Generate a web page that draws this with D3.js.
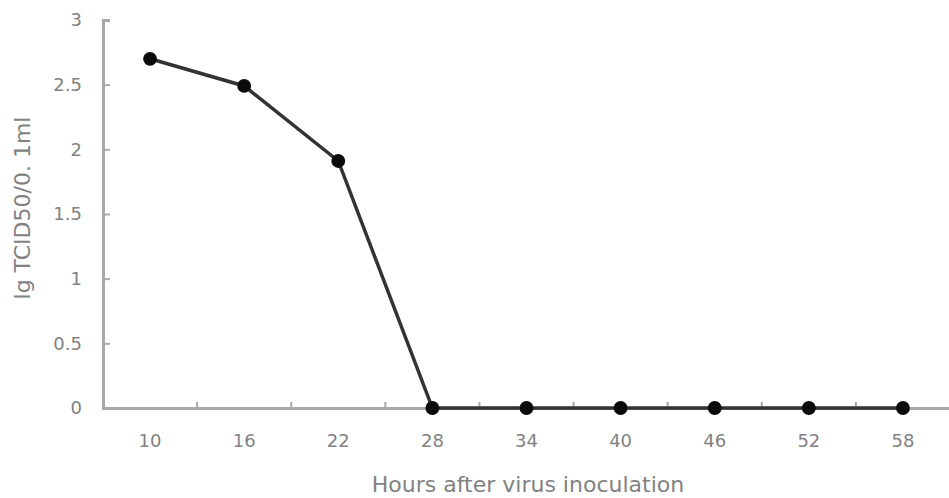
<!DOCTYPE html>
<html>
<head>
<meta charset="utf-8">
<script src="https://cdn.jsdelivr.net/npm/d3@7"></script>
<style>
  html, body { margin: 0; padding: 0; background: #fff; }
  svg { display: block; }
  text { font-family: "DejaVu Sans", Verdana, sans-serif; fill: #828282; }
</style>
</head>
<body>
<svg id="chart" width="949" height="498"></svg>
<script>
// Virus titre over time after inoculation
const hours = ["10", "16", "22", "28", "34", "40", "46", "52", "58"];
const titre = [2.7, 2.49, 1.91, 0, 0, 0, 0, 0, 0];
const yTicks = [0, 0.5, 1, 1.5, 2, 2.5, 3];
const yTickLabels = ["0", "0.5", "1", "1.5", "2", "2.5", "3"];
const xTitle = "Hours after virus inoculation";
const yTitle = "lg TCID50/0. 1ml";

(function () {
  const svg = d3.select("#chart");
  const m = { left: 103, right: 950, top: 20, bottom: 408 };

  const x = d3.scaleBand().domain(hours).range([m.left, m.right]).padding(0);
  const y = d3.scaleLinear().domain([0, 3]).range([m.bottom, m.top]);

  const axisColor = "#a8a8a8";
  const textColor = "#828282";

  // Y axis with inward ticks
  const yAxis = svg.append("g").attr("transform", `translate(${m.left},0)`)
    .call(d3.axisLeft(y).tickValues(yTicks).tickSize(-7).tickPadding(21)
      .tickFormat((d, i) => yTickLabels[i]));
  yAxis.select(".domain").attr("stroke", axisColor).attr("stroke-width", 3);
  yAxis.selectAll(".tick line").attr("stroke", axisColor).attr("stroke-width", 2);
  yAxis.selectAll(".tick text").attr("font-size", 18).attr("fill", textColor)
    .attr("font-family", "'DejaVu Sans', sans-serif");

  // X axis: ticks on category boundaries, pointing inward
  const xAxis = svg.append("g").attr("transform", `translate(0,${m.bottom})`)
    .call(d3.axisBottom(x).tickSize(0).tickPadding(26));
  xAxis.select(".domain").attr("stroke", axisColor).attr("stroke-width", 3);
  xAxis.selectAll(".tick text").attr("font-size", 18).attr("fill", textColor)
    .attr("font-family", "'DejaVu Sans', sans-serif");
  svg.append("g").selectAll("line")
    .data(hours.slice(1))
    .join("line")
    .attr("x1", d => x(d)).attr("x2", d => x(d))
    .attr("y1", m.bottom).attr("y2", m.bottom - 6)
    .attr("stroke", axisColor).attr("stroke-width", 2);

  // Series line
  const pts = hours.map((h, i) => [x(h) + x.bandwidth() / 2, y(titre[i])]);
  svg.append("path")
    .attr("d", d3.line()(pts))
    .attr("fill", "none")
    .attr("stroke", "#333")
    .attr("stroke-width", 3.5);

  // Markers
  svg.append("g").selectAll("path")
    .data(pts)
    .join("path")
    .attr("transform", d => `translate(${d[0]},${d[1]})`)
    .attr("d", d3.symbol().type(d3.symbolCircle).size(150))
    .attr("fill", "#0a0a0a");

  // Axis titles
  svg.append("text")
    .attr("x", 528).attr("y", 492)
    .attr("text-anchor", "middle")
    .attr("font-size", 22)
    .text(xTitle);

  svg.append("text")
    .attr("transform", `translate(30,208) rotate(-90)`)
    .attr("text-anchor", "middle")
    .attr("font-size", 22)
    .text(yTitle);
})();
</script>
</body>
</html>
